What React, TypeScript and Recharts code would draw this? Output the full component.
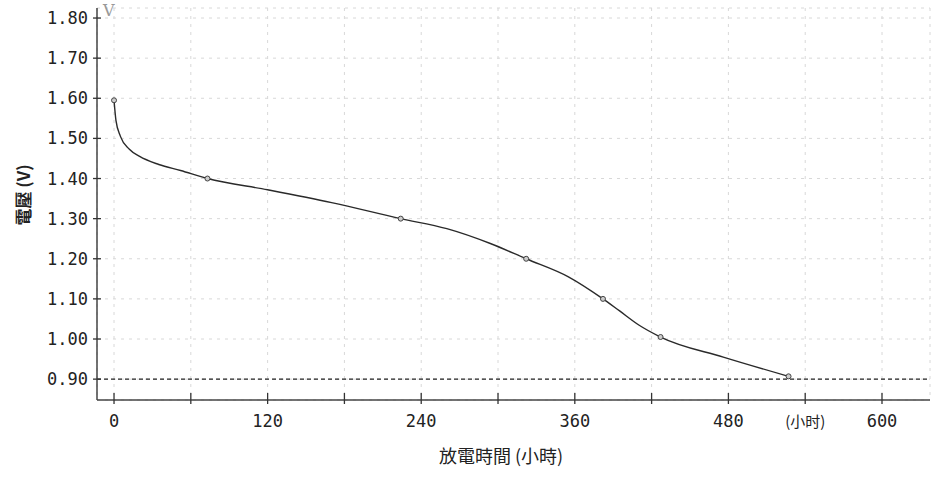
import React from 'react';
import { LineChart, Line, XAxis, YAxis, CartesianGrid, ReferenceLine } from 'recharts';

const times = [0, 1.5, 5, 12, 20, 35, 52, 73, 120, 170, 224, 260, 294, 322, 355, 382, 395, 410, 427, 476, 527];
const volts = [1.595, 1.545, 1.505, 1.473, 1.455, 1.435, 1.42, 1.4, 1.372, 1.34, 1.3, 1.275, 1.238, 1.2, 1.155, 1.1, 1.07, 1.035, 1.005, 0.955, 0.907];
const markedTimes = [0, 73, 224, 322, 382, 427, 527];

const xTicks = [0, 60, 120, 180, 240, 300, 360, 420, 480, 540, 600];
const xTickLabels: Record<number, string> = { 0: '0', 120: '120', 240: '240', 360: '360', 480: '480', 540: '(小时)', 600: '600' };
const yTicks = [0.9, 1.0, 1.1, 1.2, 1.3, 1.4, 1.5, 1.6, 1.7, 1.8];

const data = times.map((t, i) => ({ t, v: volts[i], marked: markedTimes.includes(t) }));

const tickFont = '"DejaVu Sans Mono", monospace';

const XTick = (props: any) => {
  const { x, y, payload } = props;
  const label = xTickLabels[payload.value] ?? '';
  const isUnit = payload.value === 540;
  return (
    <g>
      <line x1={x} x2={x} y1={y - 7} y2={y + 4} stroke="#333" strokeWidth={1.3} />
      {label && (
        <text
          x={x}
          y={y + 27}
          textAnchor="middle"
          fontSize={isUnit ? 15 : 17}
          fontFamily={isUnit ? '"Noto Sans CJK TC", sans-serif' : tickFont}
          fill="#222"
        >
          {label}
        </text>
      )}
    </g>
  );
};

const YTick = (props: any) => {
  const { x, y, payload } = props;
  return (
    <g>
      <line x1={x - 4} x2={x + 4} y1={y} y2={y} stroke="#333" strokeWidth={1.3} />
      <text x={x - 9} y={y + 6} textAnchor="end" fontSize={17} fontFamily={tickFont} fill="#222">
        {payload.value.toFixed(2)}
      </text>
    </g>
  );
};

const Dot = (props: any) => {
  const { cx, cy, payload, index } = props;
  if (!payload.marked) return <g key={index} />;
  return <circle key={index} cx={cx} cy={cy} r={2.5} fill="#ccc" stroke="#444" strokeWidth={1} />;
};

export default function App() {
  return (
    <div style={{ position: 'absolute', left: 0, top: 0, width: 950, height: 481, background: '#fff' }}>
      <LineChart width={950} height={481} data={data} margin={{ top: 8, right: 20, left: 0, bottom: 0 }}>
        <CartesianGrid stroke="#d8d8d8" strokeDasharray="3 5" />
        <XAxis
          dataKey="t"
          type="number"
          domain={[-13.3, 637.5]}
          ticks={xTicks}
          interval={0}
          allowDataOverflow
          height={81}
          tickSize={0}
          tickMargin={0}
          tickLine={false}
          tick={<XTick />}
          axisLine={{ stroke: '#444', strokeWidth: 1.5 }}
        />
        <YAxis
          type="number"
          domain={[0.848, 1.825]}
          ticks={yTicks}
          interval={0}
          allowDataOverflow
          width={97}
          tickSize={0}
          tickMargin={0}
          tickLine={false}
          tick={<YTick />}
          axisLine={{ stroke: '#444', strokeWidth: 1.5 }}
        />
        <ReferenceLine y={0.9} stroke="#222" strokeDasharray="4 3" strokeWidth={1.2} ifOverflow="extendDomain" />
        <Line
          dataKey="v"
          type="monotone"
          stroke="#2a2a2a"
          strokeWidth={1.4}
          dot={<Dot />}
          activeDot={false}
          isAnimationActive={false}
        />
      </LineChart>
      <div style={{ position: 'absolute', left: 103, top: 1, fontSize: 16, color: '#999', fontFamily: '"DejaVu Serif", serif' }}>V</div>
      <div
        style={{
          position: 'absolute',
          left: 22,
          top: 195,
          transform: 'translate(-50%, -50%) rotate(-90deg)',
          whiteSpace: 'nowrap',
          fontSize: 17,
          fontWeight: 'bold',
          color: '#222',
          fontFamily: '"Noto Sans CJK TC", sans-serif',
        }}
      >
        電壓 (V)
      </div>
      <div
        style={{
          position: 'absolute',
          left: 501,
          top: 455,
          transform: 'translate(-50%, -50%)',
          whiteSpace: 'nowrap',
          fontSize: 18,
          color: '#222',
          fontFamily: '"Noto Sans CJK TC", sans-serif',
        }}
      >
        放電時間 (小時)
      </div>
    </div>
  );
}
